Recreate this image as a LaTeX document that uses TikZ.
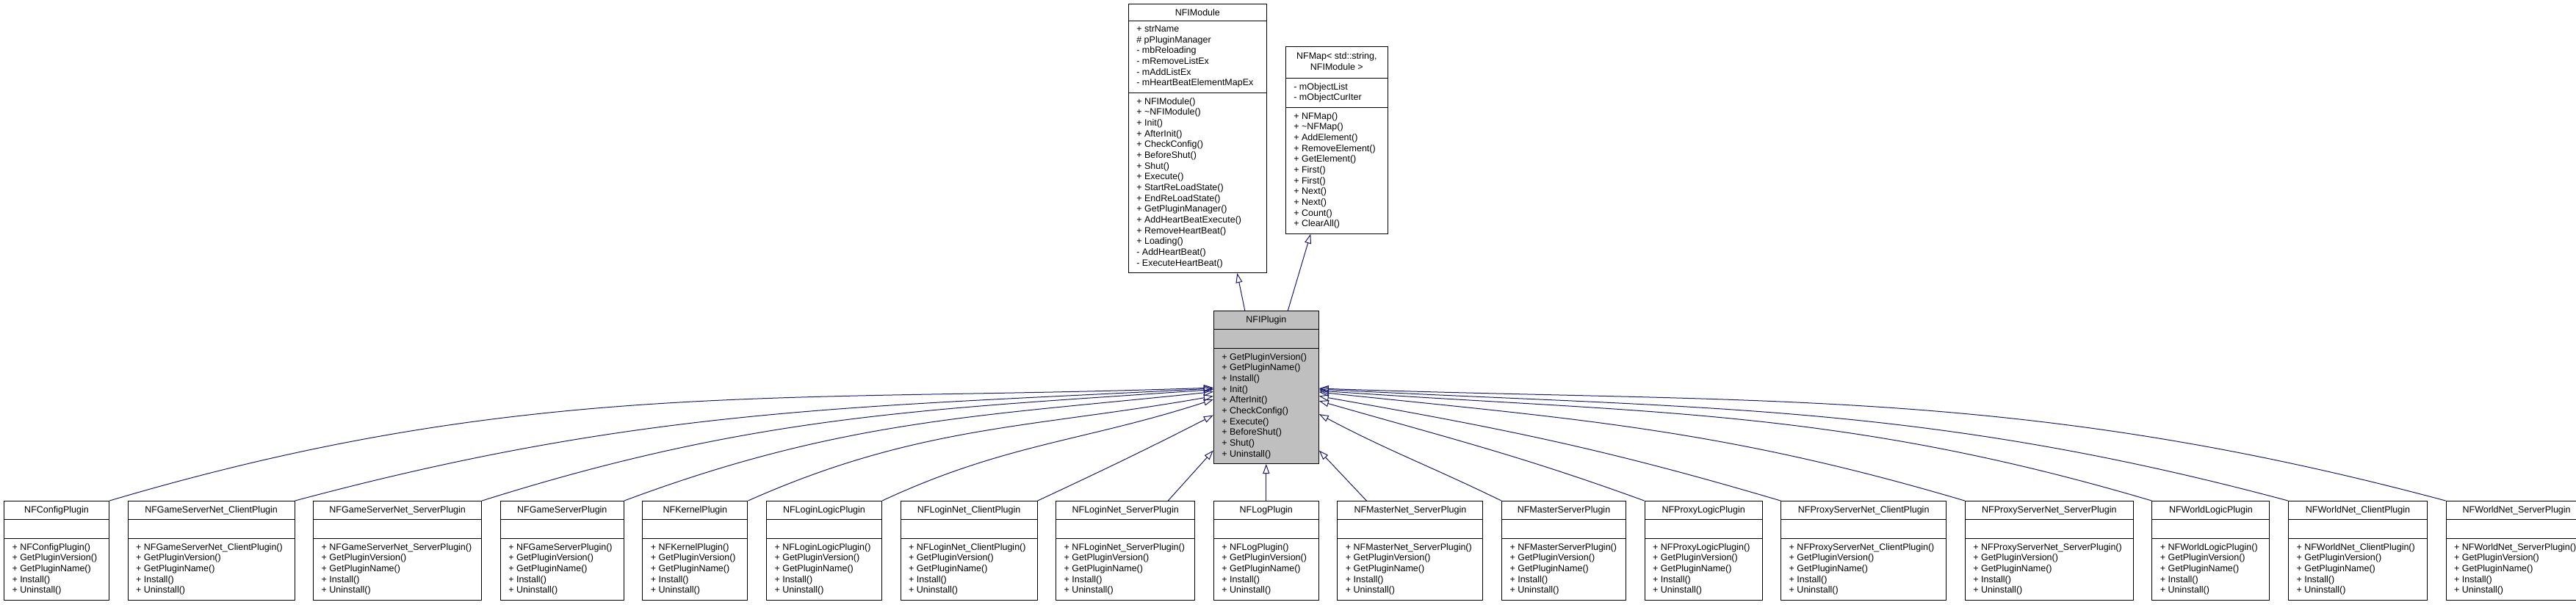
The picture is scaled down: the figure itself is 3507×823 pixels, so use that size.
\documentclass[tikz,border=0pt]{standalone}
\usepackage{fontspec}
\setmainfont{Liberation Sans}
\usetikzlibrary{arrows.meta, positioning, shapes.multipart}
\definecolor{edgeBlue}{RGB}{25,25,112}
\definecolor{baseGray}{RGB}{191,191,191}

\begin{document}
\begin{tikzpicture}[>={Triangle[open, length=13pt, width=9pt]}, line width=1pt]
      \tikzstyle{classBox} = [rectangle split, rectangle split parts=3, rectangle split part align={center,left,left}, rectangle split empty part height=9.2pt, rectangle split empty part depth=2.6pt, draw=black, fill=white, align=left, inner xsep=11pt, inner ysep=6.3pt, font=\fontsize{12.5pt}{14.67pt}\selectfont]
      \tikzstyle{baseBox} = [classBox, fill=baseGray]
      \tikzstyle{inheritLine} = [draw=edgeBlue, ->]

      \useasboundingbox (0,0) rectangle (3507pt,-823pt);

      % Fila de plugins
      \node at (5pt,-682pt) [classBox, anchor=north west, minimum width=143pt] (config) {NFConfigPlugin\nodepart{two}\nodepart{three}+ NFConfigPlugin()\\ + GetPluginVersion()\\ + GetPluginName()\\ + Install()\\ + Uninstall()};
      \node [classBox, minimum width=227pt, right=24.6pt of config] (gameNetClient) {NFGameServerNet\_ClientPlugin\nodepart{two}\nodepart{three}+ NFGameServerNet\_ClientPlugin()\\ + GetPluginVersion()\\ + GetPluginName()\\ + Install()\\ + Uninstall()};
      \node [classBox, minimum width=229pt, right=24.6pt of gameNetClient] (gameNetServer) {NFGameServerNet\_ServerPlugin\nodepart{two}\nodepart{three}+ NFGameServerNet\_ServerPlugin()\\ + GetPluginVersion()\\ + GetPluginName()\\ + Install()\\ + Uninstall()};
      \node [classBox, minimum width=168pt, right=24.6pt of gameNetServer] (gameServer) {NFGameServerPlugin\nodepart{two}\nodepart{three}+ NFGameServerPlugin()\\ + GetPluginVersion()\\ + GetPluginName()\\ + Install()\\ + Uninstall()};
      \node [classBox, minimum width=143pt, right=24.6pt of gameServer] (kernel) {NFKernelPlugin\nodepart{two}\nodepart{three}+ NFKernelPlugin()\\ + GetPluginVersion()\\ + GetPluginName()\\ + Install()\\ + Uninstall()};
      \node [classBox, minimum width=157pt, right=24.6pt of kernel] (loginLogic) {NFLoginLogicPlugin\nodepart{two}\nodepart{three}+ NFLoginLogicPlugin()\\ + GetPluginVersion()\\ + GetPluginName()\\ + Install()\\ + Uninstall()};
      \node [classBox, minimum width=186pt, right=24.6pt of loginLogic] (loginNetClient) {NFLoginNet\_ClientPlugin\nodepart{two}\nodepart{three}+ NFLoginNet\_ClientPlugin()\\ + GetPluginVersion()\\ + GetPluginName()\\ + Install()\\ + Uninstall()};
      \node [classBox, minimum width=189pt, right=24.6pt of loginNetClient] (loginNetServer) {NFLoginNet\_ServerPlugin\nodepart{two}\nodepart{three}+ NFLoginNet\_ServerPlugin()\\ + GetPluginVersion()\\ + GetPluginName()\\ + Install()\\ + Uninstall()};
      \node [classBox, minimum width=143pt, right=24.6pt of loginNetServer] (log) {NFLogPlugin\nodepart{two}\nodepart{three}+ NFLogPlugin()\\ + GetPluginVersion()\\ + GetPluginName()\\ + Install()\\ + Uninstall()};
      \node [classBox, minimum width=198pt, right=24.6pt of log] (masterNetServer) {NFMasterNet\_ServerPlugin\nodepart{two}\nodepart{three}+ NFMasterNet\_ServerPlugin()\\ + GetPluginVersion()\\ + GetPluginName()\\ + Install()\\ + Uninstall()};
      \node [classBox, minimum width=169pt, right=24.6pt of masterNetServer] (masterServer) {NFMasterServerPlugin\nodepart{two}\nodepart{three}+ NFMasterServerPlugin()\\ + GetPluginVersion()\\ + GetPluginName()\\ + Install()\\ + Uninstall()};
      \node [classBox, minimum width=160pt, right=24.6pt of masterServer] (proxyLogic) {NFProxyLogicPlugin\nodepart{two}\nodepart{three}+ NFProxyLogicPlugin()\\ + GetPluginVersion()\\ + GetPluginName()\\ + Install()\\ + Uninstall()};
      \node [classBox, minimum width=225pt, right=24.6pt of proxyLogic] (proxyNetClient) {NFProxyServerNet\_ClientPlugin\nodepart{two}\nodepart{three}+ NFProxyServerNet\_ClientPlugin()\\ + GetPluginVersion()\\ + GetPluginName()\\ + Install()\\ + Uninstall()};
      \node [classBox, minimum width=229pt, right=24.6pt of proxyNetClient] (proxyNetServer) {NFProxyServerNet\_ServerPlugin\nodepart{two}\nodepart{three}+ NFProxyServerNet\_ServerPlugin()\\ + GetPluginVersion()\\ + GetPluginName()\\ + Install()\\ + Uninstall()};
      \node [classBox, minimum width=160pt, right=24.6pt of proxyNetServer] (worldLogic) {NFWorldLogicPlugin\nodepart{two}\nodepart{three}+ NFWorldLogicPlugin()\\ + GetPluginVersion()\\ + GetPluginName()\\ + Install()\\ + Uninstall()};
      \node [classBox, minimum width=189pt, right=24.6pt of worldLogic] (worldNetClient) {NFWorldNet\_ClientPlugin\nodepart{two}\nodepart{three}+ NFWorldNet\_ClientPlugin()\\ + GetPluginVersion()\\ + GetPluginName()\\ + Install()\\ + Uninstall()};
      \node [classBox, minimum width=192pt, right=24.6pt of worldNetClient] (worldNetServer) {NFWorldNet\_ServerPlugin\nodepart{two}\nodepart{three}+ NFWorldNet\_ServerPlugin()\\ + GetPluginVersion()\\ + GetPluginName()\\ + Install()\\ + Uninstall()};

      % Clases base
      \node [baseBox, minimum width=143pt, above=50pt of log] (plugin) {NFIPlugin\nodepart{two}\nodepart{three}+ GetPluginVersion()\\ + GetPluginName()\\ + Install()\\ + Init()\\ + AfterInit()\\ + CheckConfig()\\ + Execute()\\ + BeforeShut()\\ + Shut()\\ + Uninstall()};
      \node [classBox, minimum width=188pt, above=51pt of plugin, xshift=-93.5pt] (module) {NFIModule\nodepart{two}+ strName\\ \# pPluginManager\\ - mbReloading\\ - mRemoveListEx\\ - mAddListEx\\ - mHeartBeatElementMapEx\nodepart{three}+ NFIModule()\\ + \textasciitilde NFIModule()\\ + Init()\\ + AfterInit()\\ + CheckConfig()\\ + BeforeShut()\\ + Shut()\\ + Execute()\\ + StartReLoadState()\\ + EndReLoadState()\\ + GetPluginManager()\\ + AddHeartBeatExecute()\\ + RemoveHeartBeat()\\ + Loading()\\ - AddHeartBeat()\\ - ExecuteHeartBeat()};
      \node [classBox, minimum width=139pt, below right=58pt and 25pt of module.north east] (map) {\begin{tabular}{@{}c@{}}NFMap< std::string,\\ NFIModule >\end{tabular}\nodepart{two}- mObjectList\\ - mObjectCurIter\nodepart{three}+ NFMap()\\ + \textasciitilde NFMap()\\ + AddElement()\\ + RemoveElement()\\ + GetElement()\\ + First()\\ + First()\\ + Next()\\ + Next()\\ + Count()\\ + ClearAll()};

      \draw [inheritLine] ([xshift=-29pt]plugin.north) -- ([xshift=54pt]module.south);
      \draw [inheritLine] ([xshift=29.5pt]plugin.north) -- ([xshift=-35.5pt]map.south);

      % Herencia, lado izquierdo
      \draw [inheritLine] (config.north east) .. controls +(16.5:588pt) and +(182:588pt) .. ([yshift=-0.5pt]plugin.west);
      \draw [inheritLine] (gameNetClient.north east) .. controls +(15:490pt) and +(183:490pt) .. ([yshift=-1.5pt]plugin.west);
      \draw [inheritLine] (gameNetServer.north east) .. controls +(17.5:392pt) and +(184:392pt) .. ([yshift=-3pt]plugin.west);
      \draw [inheritLine] (gameServer.north east) .. controls +(20.5:317pt) and +(186:317pt) .. ([yshift=-6pt]plugin.west);
      \draw [inheritLine] (kernel.north east) .. controls +(24:253pt) and +(190:253pt) .. ([yshift=-12pt]plugin.west);
      \draw [inheritLine] (loginLogic.north east) .. controls +(25:184pt) and +(198:184pt) .. ([yshift=-16.5pt]plugin.west);
      \draw [inheritLine] (loginNetClient.north east) .. controls +(25:104pt) and +(207:104pt) .. ([yshift=-38pt]plugin.west);
      \draw [inheritLine] ([xshift=-37pt]loginNetServer.north east) -- ([yshift=-86pt]plugin.west);
      \draw [inheritLine] (log) -- (plugin);

      % Herencia, lado derecho
      \draw [inheritLine] ([xshift=40pt]masterNetServer.north west) -- ([yshift=-86pt]plugin.east);
      \draw [inheritLine] (masterServer.north west) .. controls +(154:107pt) and +(-28:107pt) .. ([yshift=-36.5pt]plugin.east);
      \draw [inheritLine] (proxyLogic.north west) .. controls +(160:181pt) and +(-16:181pt) .. ([yshift=-18.5pt]plugin.east);
      \draw [inheritLine] (proxyNetClient.north west) .. controls +(163.5:251pt) and +(-10:251pt) .. ([yshift=-12pt]plugin.east);
      \draw [inheritLine] (proxyNetServer.north west) .. controls +(163.5:347pt) and +(-6:347pt) .. ([yshift=-6.5pt]plugin.east);
      \draw [inheritLine] (worldLogic.north west) .. controls +(163.5:445pt) and +(-4:445pt) .. ([yshift=-4.5pt]plugin.east);
      \draw [inheritLine] (worldNetClient.north west) .. controls +(165:517pt) and +(-3:517pt) .. ([yshift=-2.5pt]plugin.east);
      \draw [inheritLine] (worldNetServer.north west) .. controls +(165:600pt) and +(-2:600pt) .. ([yshift=-1.5pt]plugin.east);

\end{tikzpicture}
\end{document}
